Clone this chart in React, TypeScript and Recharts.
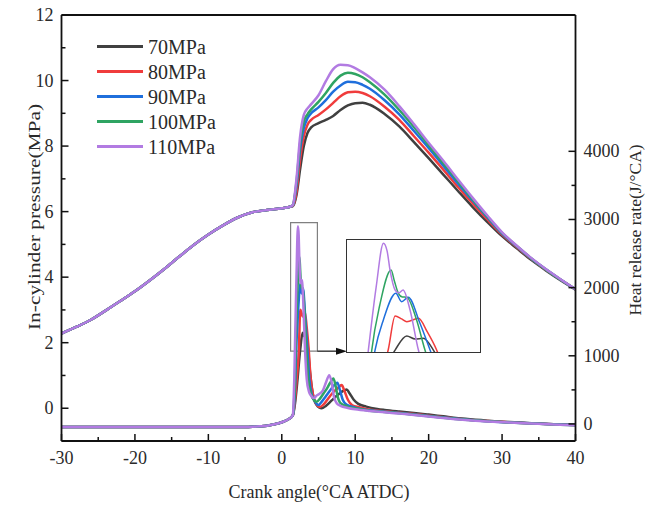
import React from 'react';
import { LineChart, Line, XAxis, YAxis, ReferenceLine, ReferenceArea, Legend } from 'recharts';

const FONT = '"Liberation Serif", "Times New Roman", serif';

const seriesNames = ['70MPa', '80MPa', '90MPa', '100MPa', '110MPa'];
const seriesColors = ['#404040', '#f03c3c', '#1f6fdc', '#2fa462', '#b27be2'];

// In-cylinder pressure (MPa), common compression part
const compressionCA = [-30, -28, -26, -24, -22, -20, -18, -16, -14, -12, -10, -8, -6, -4, -2, 0, 1];
const compressionP = [2.28, 2.48, 2.7, 2.98, 3.27, 3.57, 3.9, 4.25, 4.62, 4.98, 5.3, 5.58, 5.82, 5.98, 6.05, 6.1, 6.14];

// combustion / expansion part
const combustionCA = [1.5, 2, 2.5, 3, 3.5, 4, 5, 6, 7, 8, 9, 10, 11, 12, 14, 16, 18, 20, 22, 24, 26, 28, 30, 32, 34, 36, 38, 40];
const p70 = [6.17, 6.5, 7.3, 8.0, 8.4, 8.57, 8.7, 8.8, 8.92, 9.1, 9.24, 9.31, 9.32, 9.26, 8.98, 8.6, 8.12, 7.63, 7.13, 6.63, 6.14, 5.68, 5.25, 4.88, 4.52, 4.2, 3.9, 3.62];
const p80 = [6.18, 6.6, 7.6, 8.3, 8.65, 8.8, 8.95, 9.12, 9.32, 9.52, 9.64, 9.66, 9.62, 9.52, 9.2, 8.8, 8.3, 7.8, 7.28, 6.75, 6.25, 5.76, 5.3, 4.92, 4.55, 4.22, 3.92, 3.63];
const p90 = [6.19, 6.8, 7.9, 8.55, 8.85, 9.0, 9.18, 9.4, 9.66, 9.85, 9.96, 9.95, 9.87, 9.75, 9.4, 8.97, 8.46, 7.94, 7.4, 6.85, 6.33, 5.82, 5.33, 4.94, 4.56, 4.23, 3.92, 3.63];
const p100 = [6.2, 6.9, 8.1, 8.75, 8.97, 9.12, 9.35, 9.62, 9.93, 10.15, 10.24, 10.2, 10.1, 9.95, 9.57, 9.1, 8.58, 8.03, 7.48, 6.92, 6.37, 5.85, 5.35, 4.95, 4.57, 4.23, 3.92, 3.63];
const p110 = [6.2, 7.0, 8.3, 8.95, 9.15, 9.28, 9.55, 9.98, 10.35, 10.48, 10.47, 10.38, 10.25, 10.1, 9.72, 9.22, 8.67, 8.1, 7.55, 6.98, 6.42, 5.88, 5.37, 4.96, 4.58, 4.24, 3.93, 3.63];

// Heat release rate (J/°CA), common early part
const hrrPreCA = [-30, -10, -5, -4, -3, -2, -1, 0, 1];
const hrrPre = [-45, -45, -45, -42, -35, -25, -5, 25, 75];

const hrr70: [number, number][] = [[1.5, 126], [1.8, 300], [2.1, 605], [2.52, 1101], [2.84, 1337], [3.07, 1287], [3.29, 1298], [3.57, 1101], [3.85, 755], [4.2, 455], [4.7, 285], [5.43, 229], [6.0, 265], [6.8, 345], [7.5, 415], [8.2, 475], [8.84, 507], [9.2, 455], [9.8, 355], [10.42, 295], [11.5, 255], [13, 220], [14, 205], [16, 182], [18, 162], [20, 138], [22, 112], [25, 75], [28, 48], [31, 28], [34, 12], [37, -4], [40, -15]];
const hrr80: [number, number][] = [[1.5, 126], [1.75, 300], [2.0, 605], [2.33, 1101], [2.52, 1675], [2.7, 1625], [2.84, 1578], [3.16, 1635], [3.4, 1410], [3.66, 1101], [3.9, 705], [4.3, 405], [4.7, 295], [5.2, 250], [5.8, 300], [6.4, 385], [7.0, 465], [7.6, 525], [8.16, 570], [8.5, 495], [9.0, 355], [9.6, 275], [10.5, 245], [12, 210], [14, 186], [16, 166], [18, 146], [20, 122], [22, 98], [25, 67], [28, 42], [31, 24], [34, 9], [37, -5], [40, -16]];
const hrr90: [number, number][] = [[1.5, 126], [1.7, 300], [1.85, 655], [1.97, 1101], [2.2, 1612], [2.54, 2057], [2.7, 1915], [2.88, 1990], [3.2, 1556], [3.48, 1101], [3.75, 655], [4.1, 425], [4.5, 335], [4.97, 278], [5.5, 335], [6.0, 405], [6.6, 495], [7.1, 565], [7.56, 604], [7.9, 505], [8.3, 355], [8.8, 285], [10, 240], [12, 200], [14, 180], [16, 160], [18, 140], [20, 116], [22, 94], [25, 64], [28, 40], [31, 23], [34, 8], [37, -6], [40, -17]];
const hrr100: [number, number][] = [[1.5, 126], [1.65, 300], [1.8, 655], [1.88, 1101], [2.1, 1860], [2.41, 2450], [2.5, 2265], [2.61, 2057], [2.72, 1995], [2.84, 1990], [3.11, 1607], [3.34, 1101], [3.6, 655], [4.0, 430], [4.4, 350], [4.75, 325], [5.2, 372], [5.7, 450], [6.2, 530], [6.6, 605], [7.02, 668], [7.3, 575], [7.6, 405], [8.0, 305], [9, 255], [10, 230], [12, 195], [14, 176], [16, 156], [18, 136], [20, 112], [22, 91], [25, 61], [28, 38], [31, 22], [34, 7], [37, -7], [40, -18]];
const hrr110: [number, number][] = [[1.5, 126], [1.6, 300], [1.7, 650], [1.78, 1067], [2.0, 2160], [2.2, 2900], [2.3, 2770], [2.38, 2450], [2.52, 2112], [2.62, 2064], [2.74, 2112], [2.93, 1775], [3.16, 1101], [3.4, 655], [3.7, 475], [4.0, 413], [4.3, 380], [4.8, 420], [5.2, 448], [5.6, 494], [6.0, 604], [6.47, 716], [6.8, 604], [7.1, 403], [7.5, 300], [8, 265], [9, 235], [10, 215], [12, 190], [14, 172], [16, 152], [18, 132], [20, 108], [22, 88], [25, 58], [28, 36], [31, 20], [34, 6], [37, -8], [40, -18]];

const xTicks = [-30, -25, -20, -15, -10, -5, 0, 5, 10, 15, 20, 25, 30, 35, 40];
const leftTicks = [-1, 0, 1, 2, 3, 4, 5, 6, 7, 8, 9, 10, 11, 12];
const rightTicks = [0, 500, 1000, 1500, 2000, 2500, 3000, 3500, 4000];

const pressureSets = [p70, p80, p90, p100, p110];
const hrrSets = [hrr70, hrr80, hrr90, hrr100, hrr110];

const pressureData = pressureSets.map((ps) => [
  ...compressionCA.map((ca, i) => ({ ca, p: compressionP[i] })),
  ...combustionCA.map((ca, i) => ({ ca, p: ps[i] })),
]);
const hrrData = hrrSets.map((hs) => [
  ...hrrPreCA.map((ca, i) => ({ ca, q: hrrPre[i] })),
  ...hs.map(([ca, q]) => ({ ca, q })),
]);

const AXIS = '#111';
const TXT = '#2a2a2a';

const LeftTick = (props: any) => {
  const { x, y, payload } = props;
  const v = payload.value;
  const major = v >= 0 && v % 2 === 0;
  const ax = x + 8;
  return (
    <g>
      <line x1={ax} x2={ax + (major ? 7 : 4)} y1={y} y2={y} stroke={AXIS} strokeWidth={1.5} />
      {major && (
        <text x={x} y={y} textAnchor="end" dominantBaseline="central" fontFamily={FONT} fontSize={18} fill={TXT}>
          {v}
        </text>
      )}
    </g>
  );
};

const RightTick = (props: any) => {
  const { x, y, payload } = props;
  const v = payload.value;
  const major = v % 1000 === 0;
  const ax = x - 8;
  return (
    <g>
      <line x1={ax} x2={ax - (major ? 7 : 4)} y1={y} y2={y} stroke={AXIS} strokeWidth={1.5} />
      {major && (
        <text x={x} y={y} textAnchor="start" dominantBaseline="central" fontFamily={FONT} fontSize={18} fill={TXT}>
          {v}
        </text>
      )}
    </g>
  );
};

const BottomTick = (props: any) => {
  const { x, y, payload } = props;
  const v = payload.value;
  const major = v % 10 === 0;
  return (
    <g>
      <line x1={x} x2={x} y1={y} y2={y - (major ? 7 : 4)} stroke={AXIS} strokeWidth={1.5} />
      {major && (
        <text x={x} y={y + 17} textAnchor="middle" dominantBaseline="central" fontFamily={FONT} fontSize={18} fill={TXT}>
          {v}
        </text>
      )}
    </g>
  );
};

const leftLabel = () => (
  <text
    x={34}
    y={217}
    transform="rotate(-90 34 217)"
    textAnchor="middle"
    dominantBaseline="central"
    fontFamily={FONT}
    fontSize={17}
    fill={TXT}
    textLength={226}
    lengthAdjust="spacingAndGlyphs"
  >
    In-cylinder pressure(MPa)
  </text>
);

const rightLabel = () => (
  <text
    x={635}
    y={230}
    transform="rotate(-90 635 230)"
    textAnchor="middle"
    dominantBaseline="central"
    fontFamily={FONT}
    fontSize={17.5}
    fill={TXT}
  >
    Heat release rate(J/°CA)
  </text>
);

const bottomLabel = () => (
  <text x={319} y={492} textAnchor="middle" dominantBaseline="central" fontFamily={FONT} fontSize={18} fill={TXT}>
    Crank angle(°CA ATDC)
  </text>
);

const renderLegend = () => (
  <svg width={130} height={130}>
    {seriesNames.map((n, i) => (
      <g key={n}>
        <line x1={0} x2={46} y1={12.5 + 25 * i} y2={12.5 + 25 * i} stroke={seriesColors[i]} strokeWidth={2.8} />
        <text x={51} y={12.5 + 25 * i} dominantBaseline="central" fontFamily={FONT} fontSize={20} fill={TXT}>
          {n}
        </text>
      </g>
    ))}
  </svg>
);

const Arrow = (props: any) => {
  const { x1, y1, x2, y2 } = props;
  return (
    <g>
      <line x1={x1} y1={y1} x2={x2 - 8} y2={y2} stroke="#222" strokeWidth={1.3} />
      <polygon points={`${x2},${y2} ${x2 - 11},${y2 - 3.5} ${x2 - 11},${y2 + 3.5}`} fill="#111" />
    </g>
  );
};

export default function App() {
  return (
    <div style={{ position: 'absolute', left: 0, top: 0, width: 646, height: 506, fontFamily: FONT, background: '#fff' }}>
      <LineChart width={646} height={506} margin={{ top: 15, right: 0, bottom: 0, left: 0 }}>
        <XAxis
          type="number"
          dataKey="ca"
          domain={[-30, 40]}
          ticks={xTicks}
          interval={0}
          height={65}
          tickSize={0}
          tickMargin={0}
          tickLine={false}
          axisLine={{ stroke: AXIS, strokeWidth: 1.8 }}
          tick={<BottomTick />}
          label={bottomLabel}
        />
        <YAxis
          yAxisId="left"
          type="number"
          domain={[-1, 12]}
          ticks={leftTicks}
          interval={0}
          width={61.5}
          tickSize={0}
          tickMargin={8}
          tickLine={false}
          axisLine={{ stroke: AXIS, strokeWidth: 1.8 }}
          tick={<LeftTick />}
          label={leftLabel}
        />
        <YAxis
          yAxisId="right"
          orientation="right"
          type="number"
          domain={[-250, 6000]}
          ticks={rightTicks}
          interval={0}
          width={70.5}
          tickSize={0}
          tickMargin={8}
          tickLine={false}
          axisLine={{ stroke: AXIS, strokeWidth: 1.8 }}
          tick={<RightTick />}
          label={rightLabel}
        />
        <ReferenceLine yAxisId="left" y={12} stroke={AXIS} strokeWidth={1.8} />
        {pressureData.map((d, i) => (
          <Line
            key={'p' + i}
            yAxisId="left"
            data={d}
            dataKey="p"
            type="monotone"
            stroke={seriesColors[i]}
            strokeWidth={2.5}
            dot={false}
            activeDot={false}
            isAnimationActive={false}
            name={seriesNames[i]}
          />
        ))}
        {hrrData.map((d, i) => (
          <Line
            key={'q' + i}
            yAxisId="right"
            data={d}
            dataKey="q"
            type="monotone"
            stroke={seriesColors[i]}
            strokeWidth={2.5}
            dot={false}
            activeDot={false}
            isAnimationActive={false}
            legendType="none"
          />
        ))}
        <ReferenceArea
          yAxisId="right"
          x1={1.2}
          x2={4.85}
          y1={1068}
          y2={2954}
          fill="none"
          fillOpacity={0}
          stroke="#808080"
          strokeWidth={1.2}
        />
        <ReferenceLine
          yAxisId="right"
          segment={[
            { x: 4.85, y: 1068 },
            { x: 8.88, y: 1068 },
          ]}
          shape={Arrow}
        />
        <Legend
          layout="vertical"
          align="center"
          verticalAlign="middle"
          content={renderLegend}
          wrapperStyle={{ left: 96.7, top: 33.5, width: 130, height: 130 }}
        />
      </LineChart>
      <div
        style={{
          position: 'absolute',
          left: 345.5,
          top: 238.5,
          width: 133,
          height: 112,
          border: '1.5px solid #333',
          background: '#fff',
        }}
      >
        <LineChart width={133} height={112} margin={{ top: 0, right: 0, bottom: 0, left: 0 }}>
          <XAxis type="number" dataKey="ca" domain={[1.2, 4.85]} allowDataOverflow hide />
          <YAxis type="number" domain={[1068, 2954]} allowDataOverflow hide />
          {hrrData.map((d, i) => (
            <Line
              key={'i' + i}
              data={d}
              dataKey="q"
              type="monotone"
              stroke={seriesColors[i]}
              strokeWidth={1.5}
              dot={false}
              activeDot={false}
              isAnimationActive={false}
            />
          ))}
        </LineChart>
      </div>
    </div>
  );
}
